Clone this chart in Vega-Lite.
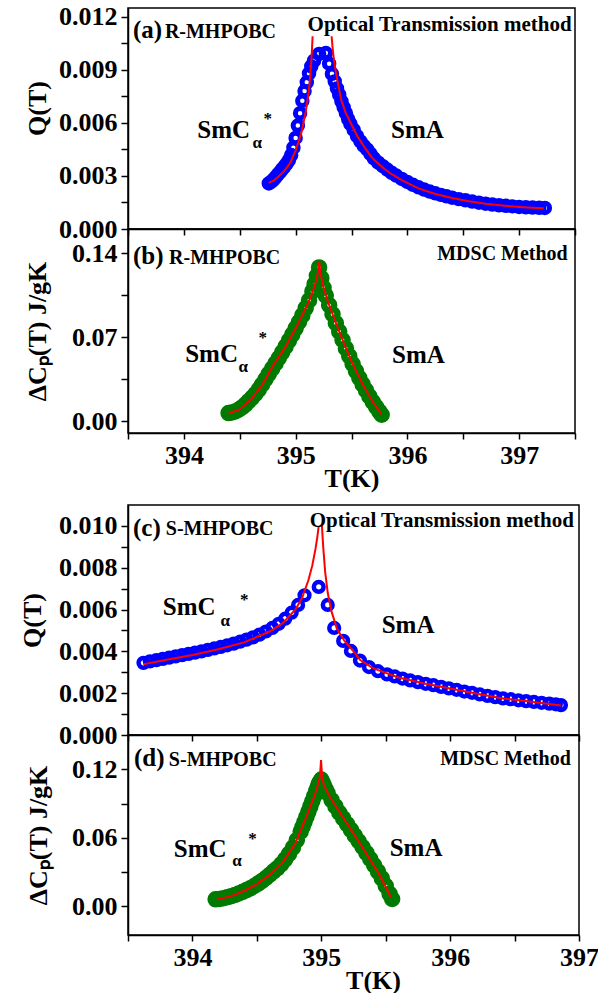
{
  "$schema": "https://vega.github.io/schema/vega-lite/v6.json",
  "background": "white",
  "padding": {"left": 18, "top": 3, "right": 0, "bottom": 0},
  "bounds": "flush",
  "spacing": 0,
  "datasets": {
    "qa": [
      {"T":394.76,"V":0.00258},{"T":394.78,"V":0.00266},{"T":394.80,"V":0.00278},{"T":394.82,"V":0.00292},{"T":394.84,"V":0.00308},{"T":394.86,"V":0.00322},{"T":394.88,"V":0.00338},{"T":394.90,"V":0.00353},{"T":394.92,"V":0.00370},{"T":394.94,"V":0.00390},{"T":394.96,"V":0.00418},{"T":394.98,"V":0.00460},{"T":395.00,"V":0.00515},{"T":395.02,"V":0.00585},{"T":395.04,"V":0.00655},{"T":395.06,"V":0.00725},{"T":395.08,"V":0.00780},{"T":395.10,"V":0.00830},{"T":395.12,"V":0.00880},{"T":395.14,"V":0.00920},{"T":395.165,"V":0.00952},{"T":395.21,"V":0.00990},{"T":395.27,"V":0.00995},{"T":395.30,"V":0.00935},{"T":395.325,"V":0.00878},{"T":395.35,"V":0.00835},{"T":395.37,"V":0.00795},{"T":395.39,"V":0.00760},{"T":395.41,"V":0.00722},{"T":395.43,"V":0.00688},{"T":395.45,"V":0.00655},{"T":395.47,"V":0.00622},{"T":395.49,"V":0.00595},{"T":395.52,"V":0.00560},{"T":395.55,"V":0.00525},{"T":395.58,"V":0.00495},{"T":395.61,"V":0.00470},{"T":395.64,"V":0.00450},{"T":395.67,"V":0.00425},{"T":395.70,"V":0.00400},{"T":395.74,"V":0.00375},{"T":395.78,"V":0.00355},{"T":395.82,"V":0.00336},{"T":395.86,"V":0.00318},{"T":395.90,"V":0.00302},{"T":395.95,"V":0.00283},{"T":396.00,"V":0.00266},{"T":396.05,"V":0.00250},{"T":396.10,"V":0.00236},{"T":396.15,"V":0.00223},{"T":396.20,"V":0.00212},{"T":396.25,"V":0.00202},{"T":396.30,"V":0.00193},{"T":396.35,"V":0.00185},{"T":396.40,"V":0.00177},{"T":396.46,"V":0.00169},{"T":396.52,"V":0.00162},{"T":396.58,"V":0.00155},{"T":396.64,"V":0.00149},{"T":396.70,"V":0.00143},{"T":396.76,"V":0.00138},{"T":396.82,"V":0.00134},{"T":396.88,"V":0.00131},{"T":396.94,"V":0.00128},{"T":397.00,"V":0.00125},{"T":397.06,"V":0.00123},{"T":397.12,"V":0.00121},{"T":397.18,"V":0.00120},{"T":397.23,"V":0.00119}
    ],
    "qa_fit": [
      {"b":"L","T":394.76,"V":0.00262},{"b":"L","T":394.80,"V":0.00272},{"b":"L","T":394.85,"V":0.00298},{"b":"L","T":394.90,"V":0.00330},{"b":"L","T":394.95,"V":0.00372},{"b":"L","T":395.00,"V":0.00445},{"b":"L","T":395.05,"V":0.00540},{"b":"L","T":395.09,"V":0.00660},{"b":"L","T":395.12,"V":0.00790},{"b":"L","T":395.135,"V":0.00900},{"b":"L","T":395.145,"V":0.01000},{"b":"L","T":395.152,"V":0.01090},
      {"b":"R","T":395.322,"V":0.01090},{"b":"R","T":395.33,"V":0.01030},{"b":"R","T":395.34,"V":0.00970},{"b":"R","T":395.36,"V":0.00890},{"b":"R","T":395.38,"V":0.00820},{"b":"R","T":395.41,"V":0.00725},{"b":"R","T":395.45,"V":0.00655},{"b":"R","T":395.50,"V":0.00590},{"b":"R","T":395.55,"V":0.00528},{"b":"R","T":395.60,"V":0.00478},{"b":"R","T":395.68,"V":0.00405},{"b":"R","T":395.76,"V":0.00358},{"b":"R","T":395.84,"V":0.00318},{"b":"R","T":395.95,"V":0.00277},{"b":"R","T":396.10,"V":0.00230},{"b":"R","T":396.25,"V":0.00198},{"b":"R","T":396.40,"V":0.00175},{"b":"R","T":396.55,"V":0.00157},{"b":"R","T":396.70,"V":0.00143},{"b":"R","T":396.85,"V":0.00133},{"b":"R","T":397.00,"V":0.00125},{"b":"R","T":397.12,"V":0.00120},{"b":"R","T":397.22,"V":0.00117}
    ],
    "cb": [
      {"T":394.40,"V":0.0066},{"T":394.43,"V":0.0071},{"T":394.46,"V":0.0080},{"T":394.49,"V":0.0094},{"T":394.52,"V":0.0113},{"T":394.55,"V":0.0137},{"T":394.58,"V":0.0165},{"T":394.61,"V":0.0194},{"T":394.64,"V":0.0225},{"T":394.67,"V":0.0262},{"T":394.70,"V":0.0304},{"T":394.73,"V":0.0348},{"T":394.76,"V":0.0393},{"T":394.79,"V":0.0437},{"T":394.82,"V":0.0480},{"T":394.85,"V":0.0525},{"T":394.88,"V":0.0572},{"T":394.91,"V":0.0620},{"T":394.94,"V":0.0670},{"T":394.97,"V":0.0720},{"T":395.00,"V":0.0772},{"T":395.03,"V":0.0825},{"T":395.06,"V":0.0880},{"T":395.09,"V":0.0940},{"T":395.12,"V":0.1005},{"T":395.15,"V":0.1080},{"T":395.17,"V":0.1140},{"T":395.19,"V":0.1210},{"T":395.21,"V":0.1280},
      {"T":395.23,"V":0.1190},{"T":395.25,"V":0.1110},{"T":395.27,"V":0.1045},{"T":395.30,"V":0.0965},{"T":395.33,"V":0.0890},{"T":395.36,"V":0.0815},{"T":395.39,"V":0.0745},{"T":395.42,"V":0.0675},{"T":395.45,"V":0.0605},{"T":395.48,"V":0.0540},{"T":395.51,"V":0.0475},{"T":395.54,"V":0.0415},{"T":395.57,"V":0.0358},{"T":395.60,"V":0.0305},{"T":395.63,"V":0.0255},{"T":395.66,"V":0.0205},{"T":395.69,"V":0.0160},{"T":395.72,"V":0.0118},{"T":395.75,"V":0.0078},{"T":395.77,"V":0.0052}
    ],
    "cb_fit": [
      {"T":394.40,"V":0.0062},{"T":394.50,"V":0.0098},{"T":394.60,"V":0.0180},{"T":394.70,"V":0.0300},{"T":394.80,"V":0.0465},{"T":394.90,"V":0.0605},{"T":395.00,"V":0.0772},{"T":395.10,"V":0.0960},{"T":395.15,"V":0.1070},{"T":395.19,"V":0.1190},{"T":395.205,"V":0.1280},{"T":395.212,"V":0.1330},{"T":395.22,"V":0.1240},{"T":395.25,"V":0.1110},{"T":395.30,"V":0.0965},{"T":395.40,"V":0.0722},{"T":395.50,"V":0.0497},{"T":395.60,"V":0.0305},{"T":395.70,"V":0.0146},{"T":395.77,"V":0.0055}
    ],
    "qc": [
      {"T":393.62,"V":0.00345},{"T":393.67,"V":0.00352},{"T":393.72,"V":0.00358},{"T":393.77,"V":0.00364},{"T":393.82,"V":0.00370},{"T":393.87,"V":0.00376},{"T":393.92,"V":0.00382},{"T":393.97,"V":0.00388},{"T":394.02,"V":0.00394},{"T":394.07,"V":0.00400},{"T":394.12,"V":0.00407},{"T":394.17,"V":0.00414},{"T":394.22,"V":0.00421},{"T":394.27,"V":0.00429},{"T":394.32,"V":0.00437},{"T":394.37,"V":0.00446},{"T":394.42,"V":0.00456},{"T":394.47,"V":0.00467},{"T":394.52,"V":0.00480},{"T":394.57,"V":0.00495},{"T":394.62,"V":0.00512},{"T":394.67,"V":0.00532},{"T":394.72,"V":0.00556},{"T":394.77,"V":0.00585},{"T":394.82,"V":0.00622},{"T":394.87,"V":0.00668},{"T":394.98,"V":0.00708},
      {"T":395.05,"V":0.00622},{"T":395.10,"V":0.00512},{"T":395.17,"V":0.00450},{"T":395.23,"V":0.00402},{"T":395.30,"V":0.00356},{"T":395.37,"V":0.00325},{"T":395.44,"V":0.00305},{"T":395.51,"V":0.00290},{"T":395.57,"V":0.00280},{"T":395.63,"V":0.00270},{"T":395.69,"V":0.00261},{"T":395.75,"V":0.00253},{"T":395.81,"V":0.00245},{"T":395.87,"V":0.00238},{"T":395.93,"V":0.00230},{"T":395.99,"V":0.00223},{"T":396.05,"V":0.00216},{"T":396.11,"V":0.00208},{"T":396.17,"V":0.00202},{"T":396.23,"V":0.00194},{"T":396.29,"V":0.00187},{"T":396.35,"V":0.00181},{"T":396.41,"V":0.00175},{"T":396.47,"V":0.00171},{"T":396.53,"V":0.00166},{"T":396.59,"V":0.00162},{"T":396.65,"V":0.00158},{"T":396.71,"V":0.00154},{"T":396.77,"V":0.00150},{"T":396.82,"V":0.00147},{"T":396.86,"V":0.00143}
    ],
    "qc_fit": [
      {"b":"L","T":393.62,"V":0.00338},{"b":"L","T":393.80,"V":0.00360},{"b":"L","T":394.00,"V":0.00383},{"b":"L","T":394.20,"V":0.00410},{"b":"L","T":394.40,"V":0.00443},{"b":"L","T":394.60,"V":0.00495},{"b":"L","T":394.70,"V":0.00535},{"b":"L","T":394.80,"V":0.00600},{"b":"L","T":394.85,"V":0.00655},{"b":"L","T":394.90,"V":0.00740},{"b":"L","T":394.93,"V":0.00810},{"b":"L","T":394.955,"V":0.00890},{"b":"L","T":394.97,"V":0.00950},{"b":"L","T":394.98,"V":0.01000},
      {"b":"R","T":395.005,"V":0.01000},{"b":"R","T":395.015,"V":0.00900},{"b":"R","T":395.03,"V":0.00780},{"b":"R","T":395.05,"V":0.00680},{"b":"R","T":395.08,"V":0.00590},{"b":"R","T":395.12,"V":0.00510},{"b":"R","T":395.18,"V":0.00450},{"b":"R","T":395.25,"V":0.00400},{"b":"R","T":395.30,"V":0.00360},{"b":"R","T":395.40,"V":0.00320},{"b":"R","T":395.60,"V":0.00275},{"b":"R","T":395.80,"V":0.00246},{"b":"R","T":396.00,"V":0.00222},{"b":"R","T":396.20,"V":0.00198},{"b":"R","T":396.40,"V":0.00176},{"b":"R","T":396.60,"V":0.00161},{"b":"R","T":396.86,"V":0.00141}
    ],
    "cd": [
      {"T":394.18,"V":0.0062},{"T":394.21,"V":0.0066},{"T":394.24,"V":0.0072},{"T":394.27,"V":0.0080},{"T":394.30,"V":0.0090},{"T":394.33,"V":0.0101},{"T":394.36,"V":0.0114},{"T":394.39,"V":0.0128},{"T":394.42,"V":0.0143},{"T":394.45,"V":0.0160},{"T":394.48,"V":0.0179},{"T":394.51,"V":0.0200},{"T":394.54,"V":0.0223},{"T":394.57,"V":0.0249},{"T":394.60,"V":0.0277},{"T":394.63,"V":0.0307},{"T":394.66,"V":0.0335},{"T":394.69,"V":0.0370},{"T":394.72,"V":0.0412},{"T":394.75,"V":0.0460},{"T":394.78,"V":0.0515},{"T":394.81,"V":0.0580},{"T":394.84,"V":0.0655},{"T":394.855,"V":0.0697},{"T":394.87,"V":0.0740},{"T":394.885,"V":0.0785},{"T":394.90,"V":0.0830},{"T":394.915,"V":0.0875},{"T":394.93,"V":0.0920},{"T":394.945,"V":0.0965},{"T":394.96,"V":0.1010},{"T":394.97,"V":0.1040},{"T":394.98,"V":0.1070},{"T":394.99,"V":0.1090},{"T":395.00,"V":0.1110},
      {"T":395.01,"V":0.1085},{"T":395.02,"V":0.1060},{"T":395.035,"V":0.1025},{"T":395.05,"V":0.0990},{"T":395.08,"V":0.0930},{"T":395.11,"V":0.0875},{"T":395.14,"V":0.0820},{"T":395.17,"V":0.0770},{"T":395.20,"V":0.0720},{"T":395.23,"V":0.0670},{"T":395.26,"V":0.0620},{"T":395.29,"V":0.0570},{"T":395.32,"V":0.0520},{"T":395.35,"V":0.0468},{"T":395.38,"V":0.0415},{"T":395.41,"V":0.0360},{"T":395.44,"V":0.0305},{"T":395.47,"V":0.0245},{"T":395.50,"V":0.0180},{"T":395.53,"V":0.0110},{"T":395.55,"V":0.0065}
    ],
    "cd_fit": [
      {"T":394.19,"V":0.0060},{"T":394.30,"V":0.0090},{"T":394.40,"V":0.0135},{"T":394.50,"V":0.0195},{"T":394.60,"V":0.0277},{"T":394.70,"V":0.0385},{"T":394.80,"V":0.0555},{"T":394.90,"V":0.0830},{"T":394.96,"V":0.1010},{"T":394.99,"V":0.1140},{"T":394.998,"V":0.1280},{"T":395.006,"V":0.1140},{"T":395.02,"V":0.1060},{"T":395.07,"V":0.0950},{"T":395.20,"V":0.0725},{"T":395.32,"V":0.0515},{"T":395.45,"V":0.0280},{"T":395.54,"V":0.0080}
    ],
    "labels": [
      {"p":"a","k":"big","T":393.545,"V":0.0108,"text":"(a)"},
      {"p":"a","k":"mid","T":393.83,"V":0.0108,"text":"R-MHPOBC"},
      {"p":"a","k":"midR","T":397.47,"V":0.0112,"text":"Optical Transmission method"},
      {"p":"a","k":"big","T":394.12,"V":0.00515,"text":"SmC"},
      {"p":"a","k":"sub","T":394.614,"V":0.00458,"text":"α"},
      {"p":"a","k":"sup","T":394.713,"V":0.00594,"text":"*"},
      {"p":"a","k":"big","T":395.854,"V":0.00515,"text":"SmA"},
      {"p":"b","k":"big","T":393.545,"V":0.131,"text":"(b)"},
      {"p":"b","k":"mid","T":393.868,"V":0.131,"text":"R-MHPOBC"},
      {"p":"b","k":"midR","T":397.435,"V":0.134,"text":"MDSC Method"},
      {"p":"b","k":"big","T":394.012,"V":0.0489,"text":"SmC"},
      {"p":"b","k":"sub","T":394.488,"V":0.0406,"text":"α"},
      {"p":"b","k":"sup","T":394.668,"V":0.0646,"text":"*"},
      {"p":"b","k":"big","T":395.863,"V":0.048,"text":"SmA"},
      {"p":"c","k":"big","T":393.539,"V":0.00952,"text":"(c)"},
      {"p":"c","k":"mid","T":393.793,"V":0.00955,"text":"S-MHPOBC"},
      {"p":"c","k":"midR","T":396.96,"V":0.00995,"text":"Optical Transmission method"},
      {"p":"c","k":"big","T":393.77,"V":0.00574,"text":"SmC"},
      {"p":"c","k":"sub","T":394.218,"V":0.00521,"text":"α"},
      {"p":"c","k":"sup","T":394.37,"V":0.00622,"text":"*"},
      {"p":"c","k":"big","T":395.469,"V":0.00488,"text":"SmA"},
      {"p":"d","k":"big","T":393.546,"V":0.1226,"text":"(d)"},
      {"p":"d","k":"mid","T":393.817,"V":0.1226,"text":"S-MHPOBC"},
      {"p":"d","k":"midR","T":396.936,"V":0.124,"text":"MDSC Method"},
      {"p":"d","k":"big","T":393.855,"V":0.0429,"text":"SmC"},
      {"p":"d","k":"sub","T":394.31,"V":0.035,"text":"α"},
      {"p":"d","k":"sup","T":394.434,"V":0.0543,"text":"*"},
      {"p":"d","k":"big","T":395.531,"V":0.0438,"text":"SmA"}
    ]
  },
  "vconcat": [
    {
      "width": 447, "height": 221,
      "encoding": {
        "x": {"field": "T", "type": "quantitative", "scale": {"domain": [393.5, 397.5], "nice": false, "zero": false},
              "axis": {"values": [393.5, 394, 394.5, 395, 395.5, 396, 396.5, 397, 397.5], "labels": false, "title": null}},
        "y": {"field": "V", "type": "quantitative", "scale": {"domain": [0, 0.0125], "nice": false, "zero": false},
              "axis": {"values": [0, 0.0015, 0.003, 0.0045, 0.006, 0.0075, 0.009, 0.0105, 0.012],
                       "labelExpr": "round(datum.value*100000) % 300 == 0 ? format(datum.value, '.3f') : ''",
                       "title": "Q(T)", "titleX": -91, "titleY": 100, "titleBaseline": "middle"}}
      },
      "layer": [
        {"data": {"name": "qa"}, "mark": {"type": "point", "shape": "circle", "filled": false, "color": "#0000ff", "strokeWidth": 5, "size": 90, "opacity": 1}},
        {"data": {"name": "qa_fit"}, "mark": {"type": "line", "color": "#ff0000", "strokeWidth": 2}, "encoding": {"detail": {"field": "b"}}},
        {"data": {"name": "labels"}, "transform": [{"filter": "datum.p=='a' && datum.k=='big'"}], "mark": {"type": "text", "align": "left", "baseline": "alphabetic", "fontSize": 25}, "encoding": {"text": {"field": "text"}}},
        {"data": {"name": "labels"}, "transform": [{"filter": "datum.p=='a' && datum.k=='mid'"}], "mark": {"type": "text", "align": "left", "baseline": "alphabetic", "fontSize": 20}, "encoding": {"text": {"field": "text"}}},
        {"data": {"name": "labels"}, "transform": [{"filter": "datum.p=='a' && datum.k=='midR'"}], "mark": {"type": "text", "align": "right", "baseline": "alphabetic", "fontSize": 21}, "encoding": {"text": {"field": "text"}}},
        {"data": {"name": "labels"}, "transform": [{"filter": "datum.p=='a' && (datum.k=='sub' || datum.k=='sup')"}], "mark": {"type": "text", "align": "left", "baseline": "alphabetic", "fontSize": 17}, "encoding": {"text": {"field": "text"}}}
      ]
    },
    {
      "width": 447, "height": 204,
      "encoding": {
        "x": {"field": "T", "type": "quantitative", "scale": {"domain": [393.5, 397.5], "nice": false, "zero": false},
              "axis": {"values": [393.5, 394, 394.5, 395, 395.5, 396, 396.5, 397, 397.5],
                       "labelExpr": "datum.value % 1 == 0 ? format(datum.value, 'd') : ''", "title": "T(K)"}},
        "y": {"field": "V", "type": "quantitative", "scale": {"domain": [-0.01, 0.16], "nice": false, "zero": false},
              "axis": {"values": [0, 0.035, 0.07, 0.105, 0.14],
                       "labelExpr": "round(datum.value*1000) % 70 == 0 ? format(datum.value, '.2f') : ''",
                       "title": "ΔCₚ(T) J/gK", "titleX": -91, "titleBaseline": "middle"}}
      },
      "layer": [
        {"data": {"name": "cb"}, "mark": {"type": "point", "shape": "circle", "filled": false, "color": "#007a00", "strokeWidth": 6.5, "size": 100, "opacity": 1}},
        {"data": {"name": "cb_fit"}, "mark": {"type": "line", "color": "#ff0000", "strokeWidth": 2}},
        {"data": {"name": "labels"}, "transform": [{"filter": "datum.p=='b' && datum.k=='big'"}], "mark": {"type": "text", "align": "left", "baseline": "alphabetic", "fontSize": 25}, "encoding": {"text": {"field": "text"}}},
        {"data": {"name": "labels"}, "transform": [{"filter": "datum.p=='b' && datum.k=='mid'"}], "mark": {"type": "text", "align": "left", "baseline": "alphabetic", "fontSize": 20}, "encoding": {"text": {"field": "text"}}},
        {"data": {"name": "labels"}, "transform": [{"filter": "datum.p=='b' && datum.k=='midR'"}], "mark": {"type": "text", "align": "right", "baseline": "alphabetic", "fontSize": 20}, "encoding": {"text": {"field": "text"}}},
        {"data": {"name": "labels"}, "transform": [{"filter": "datum.p=='b' && (datum.k=='sub' || datum.k=='sup')"}], "mark": {"type": "text", "align": "left", "baseline": "alphabetic", "fontSize": 17}, "encoding": {"text": {"field": "text"}}}
      ]
    },
    {
      "width": 447, "height": 72,
      "view": {"stroke": null},
      "data": {"values": []},
      "mark": {"type": "point", "opacity": 0}
    },
    {
      "width": 451, "height": 230,
      "encoding": {
        "x": {"field": "T", "type": "quantitative", "scale": {"domain": [393.5, 397], "nice": false, "zero": false},
              "axis": {"values": [393.5, 394, 394.5, 395, 395.5, 396, 396.5, 397], "labels": false, "title": null}},
        "y": {"field": "V", "type": "quantitative", "scale": {"domain": [0, 0.011], "nice": false, "zero": false},
              "axis": {"values": [0, 0.001, 0.002, 0.003, 0.004, 0.005, 0.006, 0.007, 0.008, 0.009, 0.01],
                       "labelExpr": "round(datum.value*10000) % 20 == 0 ? format(datum.value, '.3f') : ''",
                       "title": "Q(T)", "titleX": -96, "titleBaseline": "middle"}}
      },
      "layer": [
        {"data": {"name": "qc"}, "mark": {"type": "point", "shape": "circle", "filled": false, "color": "#0000ff", "strokeWidth": 4.5, "size": 95, "opacity": 1}},
        {"data": {"name": "qc_fit"}, "mark": {"type": "line", "color": "#ff0000", "strokeWidth": 2}, "encoding": {"detail": {"field": "b"}}},
        {"data": {"name": "labels"}, "transform": [{"filter": "datum.p=='c' && datum.k=='big'"}], "mark": {"type": "text", "align": "left", "baseline": "alphabetic", "fontSize": 25}, "encoding": {"text": {"field": "text"}}},
        {"data": {"name": "labels"}, "transform": [{"filter": "datum.p=='c' && datum.k=='mid'"}], "mark": {"type": "text", "align": "left", "baseline": "alphabetic", "fontSize": 20}, "encoding": {"text": {"field": "text"}}},
        {"data": {"name": "labels"}, "transform": [{"filter": "datum.p=='c' && datum.k=='midR'"}], "mark": {"type": "text", "align": "right", "baseline": "alphabetic", "fontSize": 21}, "encoding": {"text": {"field": "text"}}},
        {"data": {"name": "labels"}, "transform": [{"filter": "datum.p=='c' && (datum.k=='sub' || datum.k=='sup')"}], "mark": {"type": "text", "align": "left", "baseline": "alphabetic", "fontSize": 17}, "encoding": {"text": {"field": "text"}}}
      ]
    },
    {
      "width": 451, "height": 200,
      "encoding": {
        "x": {"field": "T", "type": "quantitative", "scale": {"domain": [393.5, 397], "nice": false, "zero": false},
              "axis": {"values": [393.5, 394, 394.5, 395, 395.5, 396, 396.5, 397],
                       "labelExpr": "datum.value % 1 == 0 ? format(datum.value, 'd') : ''", "title": "T(K)", "titleX": 245}},
        "y": {"field": "V", "type": "quantitative", "scale": {"domain": [-0.025, 0.15], "nice": false, "zero": false},
              "axis": {"values": [0, 0.03, 0.06, 0.09, 0.12],
                       "labelExpr": "round(datum.value*1000) % 60 == 0 ? format(datum.value, '.2f') : ''",
                       "title": "ΔCₚ(T) J/gK", "titleX": -90, "titleBaseline": "middle"}}
      },
      "layer": [
        {"data": {"name": "cd"}, "mark": {"type": "point", "shape": "circle", "filled": false, "color": "#007a00", "strokeWidth": 6.5, "size": 100, "opacity": 1}},
        {"data": {"name": "cd_fit"}, "mark": {"type": "line", "color": "#ff0000", "strokeWidth": 2}},
        {"data": {"name": "labels"}, "transform": [{"filter": "datum.p=='d' && datum.k=='big'"}], "mark": {"type": "text", "align": "left", "baseline": "alphabetic", "fontSize": 25}, "encoding": {"text": {"field": "text"}}},
        {"data": {"name": "labels"}, "transform": [{"filter": "datum.p=='d' && datum.k=='mid'"}], "mark": {"type": "text", "align": "left", "baseline": "alphabetic", "fontSize": 20}, "encoding": {"text": {"field": "text"}}},
        {"data": {"name": "labels"}, "transform": [{"filter": "datum.p=='d' && datum.k=='midR'"}], "mark": {"type": "text", "align": "right", "baseline": "alphabetic", "fontSize": 20}, "encoding": {"text": {"field": "text"}}},
        {"data": {"name": "labels"}, "transform": [{"filter": "datum.p=='d' && (datum.k=='sub' || datum.k=='sup')"}], "mark": {"type": "text", "align": "left", "baseline": "alphabetic", "fontSize": 17}, "encoding": {"text": {"field": "text"}}}
      ]
    }
  ],
  "config": {
    "view": {"stroke": "black", "strokeWidth": 1.5},
    "axis": {
      "grid": false, "domainColor": "black", "domainWidth": 1.5, "tickColor": "black", "tickWidth": 1.5, "tickSize": 6,
      "labelFont": "Liberation Serif", "labelFontWeight": "bold", "labelFontSize": 26, "labelColor": "black", "labelPadding": 3,
      "labelOverlap": false, "labelFlush": false,
      "titleFont": "Liberation Serif", "titleFontWeight": "bold", "titleFontSize": 26, "titleColor": "black", "titlePadding": 2
    },
    "axisY": {"tickSize": 7, "labelPadding": 4},
    "axisX": {"titlePadding": -3},
    "text": {"font": "Liberation Serif", "fontWeight": "bold", "color": "black"}
  }
}
